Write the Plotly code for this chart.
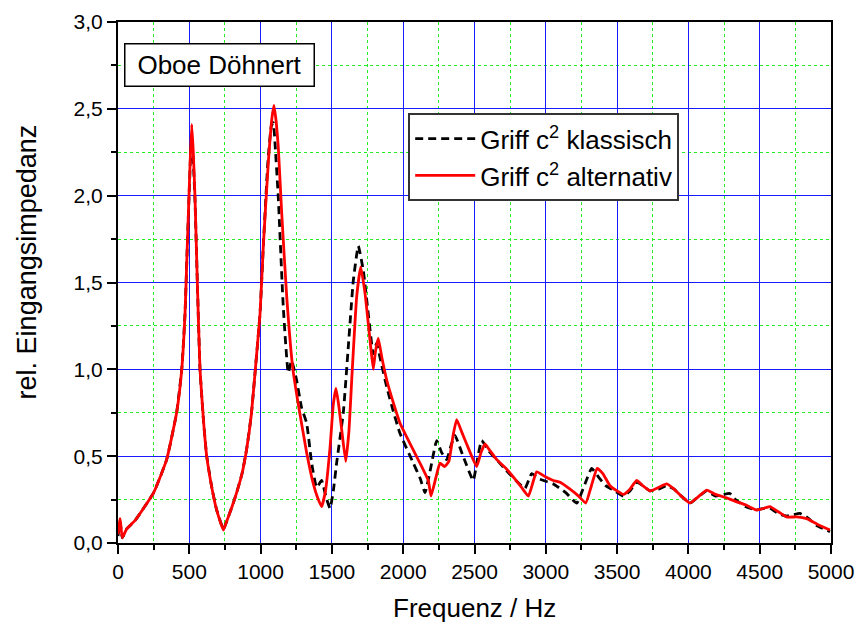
import plotly.graph_objects as go

# Input impedance of an oboe, two fingerings for c2
freq_klassisch = [0, 15, 30, 60, 120, 250, 341, 411, 447, 470, 486, 505, 515, 528, 540, 556, 575, 600,
                  622, 660, 692, 739, 760, 800, 832, 870, 902, 935, 961, 996, 1019, 1050, 1075, 1089,
                  1105, 1124, 1159, 1194, 1217, 1252, 1287, 1323, 1358, 1393, 1428, 1460, 1487, 1510,
                  1533, 1580, 1615, 1650, 1685, 1720, 1755, 1790, 1813, 1850, 1884, 1930, 1978, 2071,
                  2120, 2153, 2190, 2235, 2270, 2305, 2335, 2363, 2420, 2491, 2520, 2550, 2600, 2656,
                  2720, 2790, 2854, 2901, 2950, 3053, 3140, 3217, 3270, 3322, 3370, 3420, 3474, 3544,
                  3590, 3637, 3680, 3731, 3790, 3848, 3900, 3950, 4011, 4060, 4128, 4190, 4291, 4330,
                  4400, 4478, 4530, 4572, 4630, 4689, 4782, 4829, 4900, 4993]
imp_klassisch = [0.04, 0.12, 0.03, 0.08, 0.13, 0.29, 0.48, 0.75, 1.0, 1.32, 1.71, 2.15, 2.35, 2.20,
                 1.97, 1.51, 1.0, 0.70, 0.50, 0.31, 0.19, 0.08, 0.12, 0.21, 0.29, 0.40, 0.54, 0.74,
                 0.98, 1.32, 1.71, 2.18, 2.40, 2.42, 2.25, 1.99, 1.36, 0.98, 1.05, 0.94, 0.78, 0.69,
                 0.46, 0.32, 0.36, 0.26, 0.20, 0.30, 0.46, 0.75, 1.13, 1.51, 1.71, 1.57, 1.32, 1.09,
                 1.15, 1.02, 0.90, 0.76, 0.63, 0.46, 0.37, 0.29, 0.42, 0.59, 0.52, 0.48, 0.56, 0.62,
                 0.50, 0.36, 0.48, 0.59, 0.53, 0.48, 0.42, 0.36, 0.315, 0.40, 0.37, 0.34, 0.29, 0.23,
                 0.33, 0.43, 0.38, 0.33, 0.305, 0.27, 0.30, 0.35, 0.33, 0.30, 0.31, 0.33, 0.31, 0.27,
                 0.23, 0.26, 0.30, 0.27, 0.285, 0.25, 0.21, 0.19, 0.20, 0.20, 0.17, 0.155, 0.17, 0.15,
                 0.10, 0.065]

freq_alternativ = [0, 15, 30, 60, 120, 250, 341, 411, 447, 470, 486, 505, 517, 528, 540, 556, 575, 600,
                   622, 660, 692, 739, 760, 800, 832, 870, 902, 935, 961, 996, 1019, 1054, 1080, 1094,
                   1110, 1124, 1148, 1183, 1225, 1264, 1323, 1370, 1400, 1428, 1455, 1487, 1510, 1529,
                   1550, 1569, 1597, 1620, 1639, 1674, 1702, 1732, 1767, 1790, 1805, 1825, 1850, 1884,
                   1930, 1978, 2071, 2130, 2176, 2195, 2230, 2258, 2290, 2320, 2350, 2375, 2410, 2445,
                   2515, 2545, 2574, 2610, 2656, 2720, 2772, 2830, 2878, 2910, 2936, 3000, 3053, 3100,
                   3170, 3230, 3280, 3320, 3360, 3400, 3450, 3500, 3544, 3590, 3637, 3680, 3731, 3790,
                   3848, 3900, 3950, 4011, 4060, 4128, 4190, 4268, 4330, 4400, 4478, 4530, 4572, 4630,
                   4689, 4760, 4829, 4900, 4993]
imp_alternativ = [0.05, 0.14, 0.03, 0.08, 0.13, 0.29, 0.48, 0.75, 1.0, 1.32, 1.71, 2.17, 2.41, 2.25,
                  1.99, 1.51, 1.0, 0.70, 0.50, 0.31, 0.19, 0.075, 0.12, 0.21, 0.29, 0.40, 0.54, 0.74,
                  0.98, 1.32, 1.71, 2.19, 2.45, 2.52, 2.42, 2.28, 1.90, 1.42, 1.01, 0.80, 0.52, 0.34,
                  0.26, 0.21, 0.30, 0.55, 0.80, 0.89, 0.78, 0.65, 0.47, 0.65, 0.94, 1.42, 1.59, 1.44,
                  1.17, 1.00, 1.10, 1.18, 1.07, 0.94, 0.81, 0.69, 0.535, 0.44, 0.36, 0.27, 0.38, 0.46,
                  0.44, 0.47, 0.62, 0.71, 0.64, 0.57, 0.44, 0.52, 0.57, 0.53, 0.48, 0.43, 0.38, 0.32,
                  0.27, 0.35, 0.41, 0.38, 0.36, 0.35, 0.31, 0.27, 0.23, 0.33, 0.43, 0.40, 0.33, 0.30,
                  0.28, 0.31, 0.36, 0.33, 0.30, 0.32, 0.34, 0.31, 0.27, 0.23, 0.26, 0.305, 0.28, 0.26,
                  0.24, 0.22, 0.19, 0.20, 0.21, 0.18, 0.15, 0.15, 0.14, 0.11, 0.075]

x_ticks = [0, 500, 1000, 1500, 2000, 2500, 3000, 3500, 4000, 4500, 5000]
y_ticks = [0.0, 0.5, 1.0, 1.5, 2.0, 2.5, 3.0]

FONT = "Arial, Liberation Sans, sans-serif"

fig = go.Figure()
fig.add_trace(go.Scatter(
    x=freq_klassisch, y=imp_klassisch, mode="lines",
    name="Griff c<sup>2</sup> klassisch",
    line=dict(color="black", width=2.8, dash="8px,5px", shape="spline", smoothing=0.4),
))
fig.add_trace(go.Scatter(
    x=freq_alternativ, y=imp_alternativ, mode="lines",
    name="Griff c<sup>2</sup> alternativ",
    line=dict(color="red", width=2.8, shape="spline", smoothing=0.4),
))

axis_common = dict(
    showline=True, linecolor="black", linewidth=2, mirror=True,
    ticks="outside", ticklen=9, tickwidth=2, tickcolor="black",
    showgrid=True, gridcolor="#1a1aff", gridwidth=1,
    zeroline=False, automargin=False,
    tickfont=dict(family=FONT, size=21, color="black"),
)

fig.update_xaxes(
    range=[0, 5000], tickvals=x_ticks, tickformat="d",
    minor=dict(dtick=250, ticks="outside", ticklen=5, tickwidth=2, tickcolor="black",
               showgrid=True, gridcolor="#22ee22", griddash="dot", gridwidth=1),
    **axis_common,
)
fig.update_yaxes(
    range=[0, 3.0], tickvals=y_ticks, tickformat=".1f",
    minor=dict(dtick=0.25, ticks="outside", ticklen=5, tickwidth=2, tickcolor="black",
               showgrid=True, gridcolor="#22ee22", griddash="dot", gridwidth=1),
    **axis_common,
)

fig.add_annotation(
    text="Oboe Döhnert", xref="paper", yref="paper", x=0.1417, y=0.918,
    xanchor="center", yanchor="middle", showarrow=False,
    font=dict(family=FONT, size=26, color="black"),
    bgcolor="white", bordercolor="black", borderwidth=1.5, borderpad=4,
    width=180, height=33,
)
fig.add_annotation(
    text="Frequenz / Hz", xref="paper", yref="paper", x=0.5, y=-0.125,
    xanchor="center", yanchor="middle", showarrow=False,
    font=dict(family=FONT, size=26, color="black"),
)
fig.add_annotation(
    text="rel. Eingangsimpedanz", xref="paper", yref="paper", x=-0.128, y=0.54,
    xanchor="center", yanchor="middle", showarrow=False, textangle=-90,
    font=dict(family=FONT, size=27, color="black"),
)

fig.update_layout(
    width=857, height=625,
    margin=dict(l=118, r=26, t=22, b=82),
    paper_bgcolor="white", plot_bgcolor="white",
    separators=",.",
    font=dict(family=FONT, color="black"),
    showlegend=True,
    legend=dict(
        x=0.407, y=0.825, xanchor="left", yanchor="top",
        bgcolor="white", bordercolor="#333333", borderwidth=2,
        font=dict(family=FONT, size=26, color="black"),
        tracegroupgap=0, itemwidth=60,
    ),
)

fig.write_html("out.html")
